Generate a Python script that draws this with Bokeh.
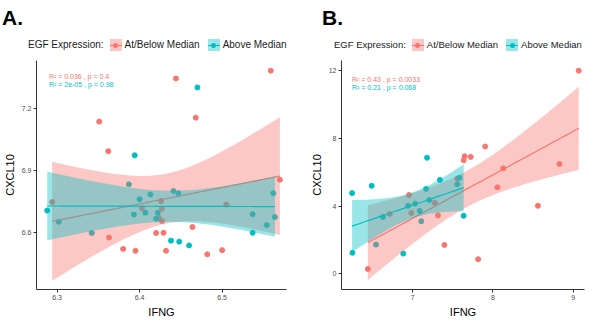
import numpy as np
from bokeh.plotting import figure
from bokeh.layouts import row, column
from bokeh.models import Range1d, FixedTicker, Label, Div
from bokeh.embed import file_html
from bokeh.resources import INLINE

RED = "#F8766D"
TEAL = "#00BFC4"
RED_BAND = "rgba(248,118,109,0.4)"
TEAL_BAND = "rgba(0,191,196,0.4)"
FONT = "Liberation Sans"

# ---------------- Panel A data ----------------
a_low_x = [6.444, 6.559, 6.351, 6.468, 6.362, 6.294, 6.363, 6.380, 6.395, 6.403, 6.423,
           6.426, 6.427, 6.427, 6.420, 6.429, 6.432, 6.464, 6.482, 6.500, 6.505, 6.570]
a_low_y = [7.343, 7.381, 7.135, 7.154, 6.992, 6.746, 6.575, 6.520, 6.511, 6.717, 6.671,
           6.751, 6.714, 6.655, 6.597, 6.598, 6.511, 6.626, 6.494, 6.514, 6.734, 6.854]
a_high_x = [6.470, 6.394, 6.288, 6.302, 6.342, 6.387, 6.400, 6.393, 6.407, 6.413, 6.422,
            6.420, 6.441, 6.447, 6.438, 6.448, 6.460, 6.537, 6.537, 6.554, 6.562, 6.564]
a_high_y = [7.300, 6.972, 6.705, 6.651, 6.597, 6.832, 6.760, 6.686, 6.695, 6.783, 6.695,
            6.666, 6.800, 6.789, 6.560, 6.555, 6.537, 6.688, 6.598, 6.635, 6.789, 6.674]
a_xticks = [6.3, 6.4, 6.5]
a_yticks = [6.6, 6.9, 7.2]
a_stats = ["R\u00b2 = 0.036 , p = 0.4", "R\u00b2 = 2e-05 , p = 0.98"]

# ---------------- Panel B data ----------------
b_low_x = [9.068, 7.904, 7.648, 7.724, 7.636, 8.128, 8.828, 8.056, 8.560, 7.396, 7.816,
           6.443, 6.716, 6.956, 6.984, 7.276, 7.316, 7.556]
b_low_y = [12.0, 7.52, 6.95, 6.91, 6.71, 6.23, 6.49, 5.11, 4.02, 1.71, 0.87,
           0.29, 3.54, 4.66, 3.60, 4.20, 3.45, 5.62]
b_high_x = [7.180, 6.247, 6.491, 6.251, 6.544, 6.884, 6.631, 6.944, 7.032, 7.088, 7.108,
            7.168, 7.208, 7.340, 7.584, 7.556, 7.636]
b_high_y = [6.86, 4.77, 5.20, 1.25, 1.73, 1.20, 3.36, 4.02, 4.15, 3.72, 3.11,
            5.02, 4.37, 5.55, 5.68, 5.29, 3.43]
b_xticks = [7, 8, 9]
b_yticks = [0, 4, 8, 12]
b_stats = ["R\u00b2 = 0.43 , p = 0.0033", "R\u00b2 = 0.21 , p = 0.068"]

legend_title = "EGF Expression:"
group_names = ["At/Below Median", "Above Median"]

# two-sided 95% t quantiles by degrees of freedom
T975 = {15: 2.131, 16: 2.120, 20: 2.086}

HEAD_H = 56
PLOT_H = 264


def lm_band(x, y):
    x = np.asarray(x, float)
    y = np.asarray(y, float)
    n = len(x)
    b, a = np.polyfit(x, y, 1)
    xs = np.linspace(x.min(), x.max(), 80)
    yh = a + b * xs
    resid = y - (a + b * x)
    s = np.sqrt((resid ** 2).sum() / (n - 2))
    se = s * np.sqrt(1.0 / n + (xs - x.mean()) ** 2 / ((x - x.mean()) ** 2).sum())
    t = T975[n - 2]
    return xs, yh, yh - t * se, yh + t * se


def key_html(line_color, band_color):
    return (
        f'<span style="display:inline-block;position:relative;width:12px;height:12px;'
        f'background:{band_color};margin:0 3px 0 6px;flex:none;">'
        f'<span style="position:absolute;left:0;top:5.5px;width:12px;height:1.2px;'
        f'background:{line_color};"></span>'
        f'<span style="position:absolute;left:3.5px;top:3.5px;width:5px;height:5px;'
        f'border-radius:50%;background:{line_color};"></span></span>'
    )


def header(letter, width, letter_x, text_x, fs):
    keys = "".join(
        key_html(c, b) + f'<span style="margin-right:2px;">{name}</span>'
        for name, c, b in zip(group_names, [RED, TEAL], [RED_BAND, TEAL_BAND])
    )
    html = (
        f'<div style="position:relative;width:{width}px;height:{HEAD_H}px;'
        f'font-family:\'{FONT}\',Arial,sans-serif;background:white;overflow:hidden;">'
        f'<div style="position:absolute;left:{letter_x}px;top:6px;font-size:21px;'
        f'font-weight:bold;color:black;line-height:24px;">{letter}</div>'
        f'<div style="position:absolute;left:{text_x}px;top:39px;height:12px;'
        f'font-size:{fs};color:#1a1a1a;white-space:nowrap;display:flex;'
        f'align-items:center;line-height:12px;">'
        f'<span>{legend_title}</span>{keys}</div></div>'
    )
    return Div(text=html, width=width, height=HEAD_H, margin=(0, 0, 0, 0))


def panel(lx, ly, hx, hy, xr, yr, xt, yt, stats, stat_x, stat_y, width, bl, br):
    p = figure(width=width, height=PLOT_H, output_backend="svg", toolbar_location=None,
               x_range=Range1d(*xr), y_range=Range1d(*yr),
               min_border_left=bl, min_border_right=br, min_border_top=4,
               min_border_bottom=27)
    p.outline_line_color = None
    p.grid.visible = False
    p.background_fill_color = "white"
    p.border_fill_color = "white"

    p.scatter(lx, ly, size=5, color=RED)
    p.scatter(hx, hy, size=5, color=TEAL)

    for (x, y, c) in [(lx, ly, RED), (hx, hy, TEAL)]:
        xs, yh, lo, hi = lm_band(x, y)
        p.varea(x=xs, y1=lo, y2=hi, fill_color=c, fill_alpha=0.4)
        p.line(xs, yh, line_color=c, line_width=1.2)

    for i, (txt, c) in enumerate(zip(stats, [RED, TEAL])):
        p.add_layout(Label(x=stat_x, y=stat_y[i], text=txt, text_color=c,
                           text_font=FONT, text_font_size="7px",
                           text_baseline="middle"))

    for ax in (p.xaxis[0], p.yaxis[0]):
        ax.axis_line_color = "#333333"
        ax.axis_line_width = 1
        ax.major_tick_line_color = "#333333"
        ax.major_tick_out = 3
        ax.major_tick_in = 0
        ax.minor_tick_line_color = None
        ax.major_label_text_font = FONT
        ax.major_label_text_font_size = "7px"
        ax.major_label_text_color = "#4d4d4d"
        ax.major_label_standoff = 2
        ax.axis_label_text_font = FONT
        ax.axis_label_text_font_size = "11px"
        ax.axis_label_text_font_style = "normal"
        ax.axis_label_text_color = "black"
        ax.axis_label_standoff = 3
    p.xaxis.ticker = FixedTicker(ticks=xt)
    p.yaxis.ticker = FixedTicker(ticks=yt)
    p.xaxis.axis_label = "IFNG"
    p.yaxis.axis_label = "CXCL10"
    return p


hA = header("A.", 300, 2, 28, "10px")
pA = panel(a_low_x, a_low_y, a_high_x, a_high_y, (6.275, 6.578), (6.324, 7.43),
           a_xticks, a_yticks, a_stats, 6.290, [7.352, 7.315], 300, 30, 14)
hB = header("B.", 288, 22, 34, "9.5px")
pB = panel(b_low_x, b_low_y, b_high_x, b_high_y, (6.115, 9.14), (-0.92, 12.6),
           b_xticks, b_yticks, b_stats, 6.245, [11.5, 11.0], 288, 41, 4)

layout = row(column(hA, pA), column(hB, pB))
open("out.html", "w").write(file_html(layout, INLINE))
